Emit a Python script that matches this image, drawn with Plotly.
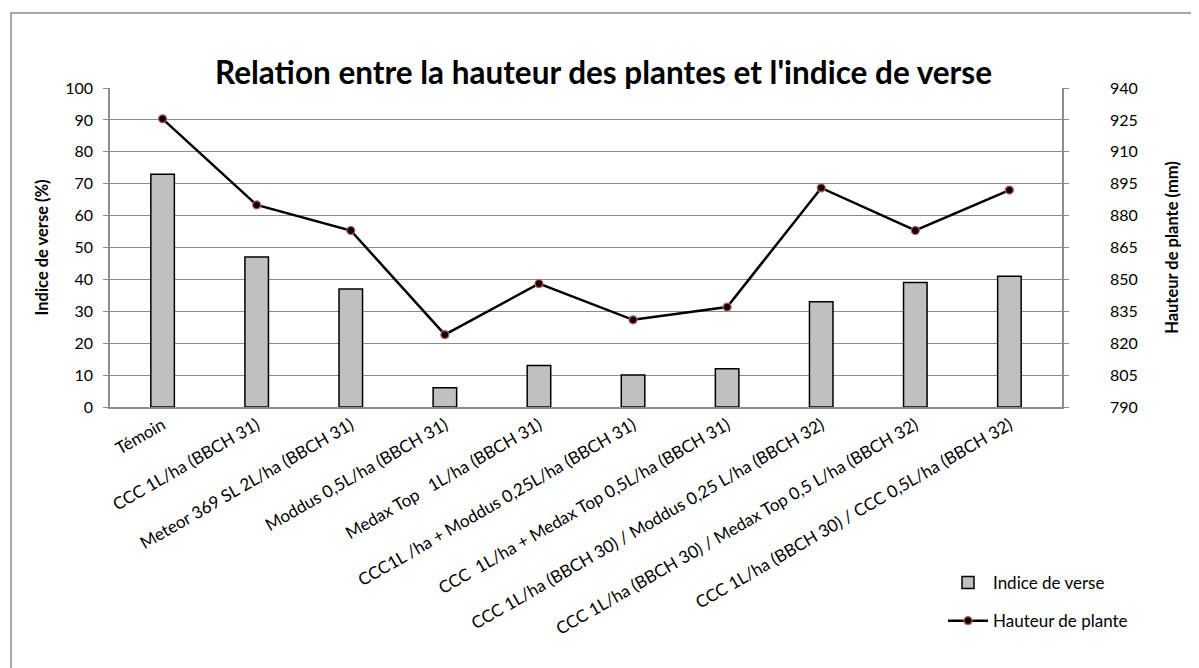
import plotly.graph_objects as go

categories = [
    "Témoin",
    "CCC 1L/ha (BBCH 31)",
    "Meteor 369 SL 2L/ha (BBCH 31)",
    "Moddus 0,5L/ha (BBCH 31)",
    "Medax Top   1L/ha (BBCH 31)",
    "CCC1L /ha + Moddus 0,25L/ha (BBCH 31)",
    "CCC  1L/ha + Medax Top 0,5L/ha (BBCH 31)",
    "CCC 1L/ha (BBCH 30) / Moddus 0,25 L/ha (BBCH 32)",
    "CCC 1L/ha (BBCH 30) / Medax Top 0,5 L/ha (BBCH 32)",
    "CCC 1L/ha (BBCH 30) / CCC 0,5L/ha (BBCH 32)",
]
indice_verse = [73, 47, 37, 6, 13, 10, 12, 33, 39, 41]
hauteur_plante = [925.5, 885, 873, 824, 848, 831, 837, 893, 873, 892]

left_ticks = list(range(0, 101, 10))
right_ticks = list(range(790, 941, 15))

FONT = "Lato, Carlito, Calibri, sans-serif"

W, H = 1191, 660
L, T, PW, PH = 102, 80, 952, 319
R = W - L - PW
B = H - T - PH

fig = go.Figure()
fig.add_trace(go.Bar(
    x=categories, y=indice_verse, name="Indice de verse",
    width=0.25,
    marker=dict(color="#C0C0C0", line=dict(color="#000000", width=1.5)),
    legendgroup="a",
))
fig.add_trace(go.Scatter(
    x=categories, y=hauteur_plante, name="Hauteur de plante", yaxis="y2",
    mode="lines+markers",
    line=dict(color="#000000", width=2.5),
    marker=dict(size=8, color="#000000", line=dict(color="#D05A5A", width=1.2)),
    legendgroup="b",
))

grid = "#8C8C8C"
fig.update_layout(
    width=W, height=H,
    margin=dict(l=L, r=R, t=T, b=B, autoexpand=False),
    paper_bgcolor="white", plot_bgcolor="white",
    font=dict(family=FONT, size=16, color="#000000"),
    title=dict(
        text="<b>Relation entre la hauteur des plantes et l'indice de verse</b>",
        x=0.5, xref="container", xanchor="center",
        y=1 - 65 / H, yref="container", yanchor="middle",
        font=dict(family=FONT, size=31.5, color="#000000"),
    ),
    xaxis=dict(
        tickangle=-30, showgrid=False, showline=True, linecolor=grid, linewidth=1.5,
        ticks="", automargin=False, tickfont=dict(size=17),
    ),
    yaxis=dict(
        range=[0, 100], tickvals=left_ticks, showgrid=True, gridcolor=grid, gridwidth=1.2,
        showline=True, linecolor=grid, linewidth=1.5, ticks="outside", ticklen=5, tickcolor=grid,
        zeroline=False, automargin=False, tickfont=dict(size=16), ticklabelstandoff=7,
        title=dict(text="<b>Indice de verse (%)</b>", font=dict(size=16.5), standoff=12),
    ),
    yaxis2=dict(
        range=[790, 940], tickvals=right_ticks, overlaying="y", side="right",
        showgrid=False, showline=True, linecolor=grid, linewidth=1.5,
        ticks="outside", ticklen=5, tickcolor=grid, zeroline=False, automargin=False,
        tickfont=dict(size=16), ticklabelstandoff=38,
        title=dict(text="<b>Hauteur de plante (mm)</b>", font=dict(size=16.5), standoff=30),
    ),
    legend=dict(
        x=(935 - L) / PW, y=(T + PH - 557) / PH, xanchor="left", yanchor="top",
        font=dict(size=17), bgcolor="rgba(0,0,0,0)", tracegroupgap=13,
        itemwidth=40,
    ),
    showlegend=True,
)

fig.add_shape(
    type="rect", xref="paper", yref="paper",
    x0=(3 - L) / PW, x1=(1215 - L) / PW,
    y0=(T + PH - 700) / PH, y1=(T + PH - 5) / PH,
    line=dict(color="#8C8C8C", width=1.5), fillcolor="rgba(0,0,0,0)", layer="below",
)

fig.write_html("out.html")
